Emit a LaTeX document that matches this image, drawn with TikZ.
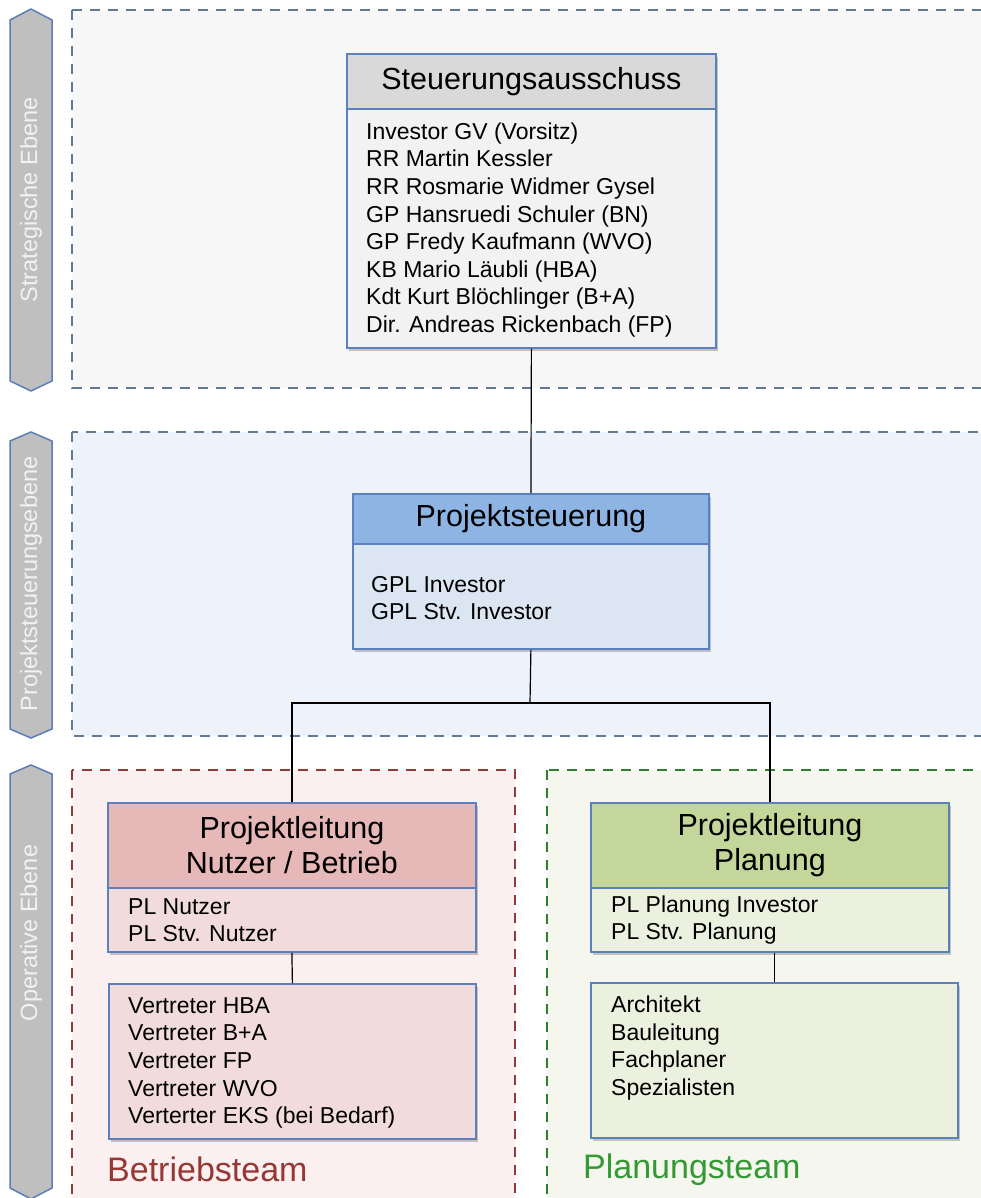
\documentclass[tikz,border=0pt]{standalone}
\usepackage{fontspec}
\setmainfont{Liberation Sans}
\usetikzlibrary{shadows}
\definecolor{boxblue}{HTML}{5A80BE}
\definecolor{barfill}{HTML}{BFBFBF}
\definecolor{barline}{HTML}{5B7DB8}
\definecolor{bartxt}{HTML}{F2F2F2}
\definecolor{regblue}{HTML}{5F7A92}
\definecolor{regred}{HTML}{8E3B3B}
\definecolor{reggreen}{HTML}{2F7F2F}
\definecolor{fillstrat}{HTML}{F7F7F8}
\definecolor{fillproj}{HTML}{EEF2FA}
\definecolor{fillbetr}{HTML}{FBEFEF}
\definecolor{fillplan}{HTML}{F5F7EF}
\definecolor{hgray}{HTML}{D9D9D9}
\definecolor{bgray}{HTML}{F2F2F2}
\definecolor{hblue}{HTML}{8EB4E3}
\definecolor{bblue}{HTML}{DCE6F2}
\definecolor{hred}{HTML}{E6B9B8}
\definecolor{bred}{HTML}{F2DCDB}
\definecolor{hgreen}{HTML}{C4D79B}
\definecolor{bgreen}{HTML}{EBF1DE}
\definecolor{tred}{HTML}{953735}
\definecolor{tgreen}{HTML}{339933}
\newcommand{\titlefont}{\fontsize{30.5}{35}\selectfont}
\newcommand{\bodyfont}{\fontsize{23}{27.6}\selectfont}
\newcommand{\teamfont}{\fontsize{34}{40}\selectfont}
\newcommand{\barfont}{\fontsize{23.5}{28}\selectfont}
\begin{document}
\begin{tikzpicture}[x=1pt,y=-1pt,
  region/.style={dash pattern=on 10pt off 8pt, line width=2pt},
  orgbox/.style={draw=boxblue, line width=1.8pt, fill=#1, rectangle, anchor=north west, inner sep=0pt,
    drop shadow={shadow xshift=2pt, shadow yshift=-3pt, opacity=0.3, fill=black!70}},
  boxtext/.style={anchor=west, align=left, inner sep=0pt, font=\bodyfont},
  lvlbar/.style={draw=barline, line width=1.5pt, fill=barfill},
  bartext/.style={rotate=90, text=bartxt, font=\barfont, inner sep=0pt},
  conn/.style={draw=black, line width=1.2pt}]
\useasboundingbox (0,0) rectangle (981,1198);
\fill[white] (0,0) rectangle (981,1198);

% regions
\draw[region, draw=regblue, fill=fillstrat] (72,10) rectangle (995,388);
\draw[region, draw=regblue, fill=fillproj] (72,432) rectangle (995,736);
\draw[region, draw=regred, fill=fillbetr] (72,770) rectangle (515,1210);
\draw[region, draw=reggreen, fill=fillplan] (547,770) rectangle (995,1210);

% level bars
\draw[lvlbar] (10,20) -- (31,9) -- (52,20) -- (52,381) -- (31,391) -- (10,381) -- cycle;
\node[bartext] (lvl1) at (31,200) {Strategische Ebene};
\draw[lvlbar] (10,441) -- (31,432) -- (52,441) -- (52,729) -- (31,738) -- (10,729) -- cycle;
\node[bartext] (lvl2) at (31,584) {Projektsteuerungsebene};
\draw[lvlbar] (10,774) -- (31,765) -- (52,774) -- (52,1188) -- (31,1199) -- (10,1188) -- cycle;
\node[bartext] (lvl3) at (31,933) {Operative Ebene};

% Steuerungsausschuss
\node[orgbox=hgray, minimum width=369pt, minimum height=55pt, font=\titlefont] (sa) at (346,53) {Steuerungsausschuss};
\node[orgbox=bgray, minimum width=369pt, minimum height=239pt] (saB) at (346,108) {};
\node[boxtext] (saT) at (366,230) {Investor GV (Vorsitz)\\RR Martin Kessler\\RR Rosmarie Widmer Gysel\\GP Hansruedi Schuler (BN)\\GP Fredy Kaufmann (WVO)\\KB Mario Läubli (HBA)\\Kdt Kurt Blöchlinger (B+A)\\Dir. Andreas Rickenbach (FP)};

% Projektsteuerung
\node[orgbox=hblue, minimum width=356pt, minimum height=50pt, font=\titlefont] (ps) at (352,493) {Projektsteuerung};
\node[orgbox=bblue, minimum width=356pt, minimum height=105pt] (psB) at (352,543) {};
\node[boxtext] (psT) at (371,598) {GPL Investor\\GPL Stv. Investor};

% Projektleitung Nutzer / Betrieb
\node[orgbox=hred, minimum width=368pt, minimum height=85pt, font=\titlefont, align=center] (pln) at (107,802) {Projektleitung\\Nutzer / Betrieb};
\node[orgbox=bred, minimum width=368pt, minimum height=64pt] (plnB) at (107,887) {};
\node[boxtext] (plnT) at (128,920) {PL Nutzer\\PL Stv. Nutzer};
\node[orgbox=bred, minimum width=367pt, minimum height=155pt] (vt) at (108,983) {};
\node[boxtext] (vtT) at (128,1063) {Vertreter HBA\\Vertreter B+A\\Vertreter FP\\Vertreter WVO\\Verterter EKS (bei Bedarf)};
\node[anchor=west, inner sep=0pt, font=\teamfont, text=tred] (bt) at (107,1169) {Betriebsteam};

% Projektleitung Planung
\node[orgbox=hgreen, minimum width=358pt, minimum height=85pt, font=\titlefont, align=center] (plp) at (590,802) {Projektleitung\\Planung};
\node[orgbox=bgreen, minimum width=358pt, minimum height=64pt] (plpB) at (590,887) {};
\node[boxtext] (plpT) at (611,920) {PL Planung Investor\\PL Stv. Planung};
\node[orgbox=bgreen, minimum width=367pt, minimum height=155pt] (team) at (590,982) {};
\node[boxtext] (teamT) at (611,1048) {Architekt\\Bauleitung\\Fachplaner\\Spezialisten};
\node[anchor=west, inner sep=0pt, font=\teamfont, text=tgreen] (pt) at (583,1170) {Planungsteam};

% connectors
\coordinate (j) at (530,703);
\draw[conn] (saB.south) -- (ps.north);
\draw[conn] (psB.south) -- (j);
\draw[conn] (pln.north) |- (j) -| (plp.north);
\draw[conn] (plnB.south) -- (vt.north);
\draw[conn] (team.north) -- (team.north |- plpB.south);
\end{tikzpicture}
\end{document}
